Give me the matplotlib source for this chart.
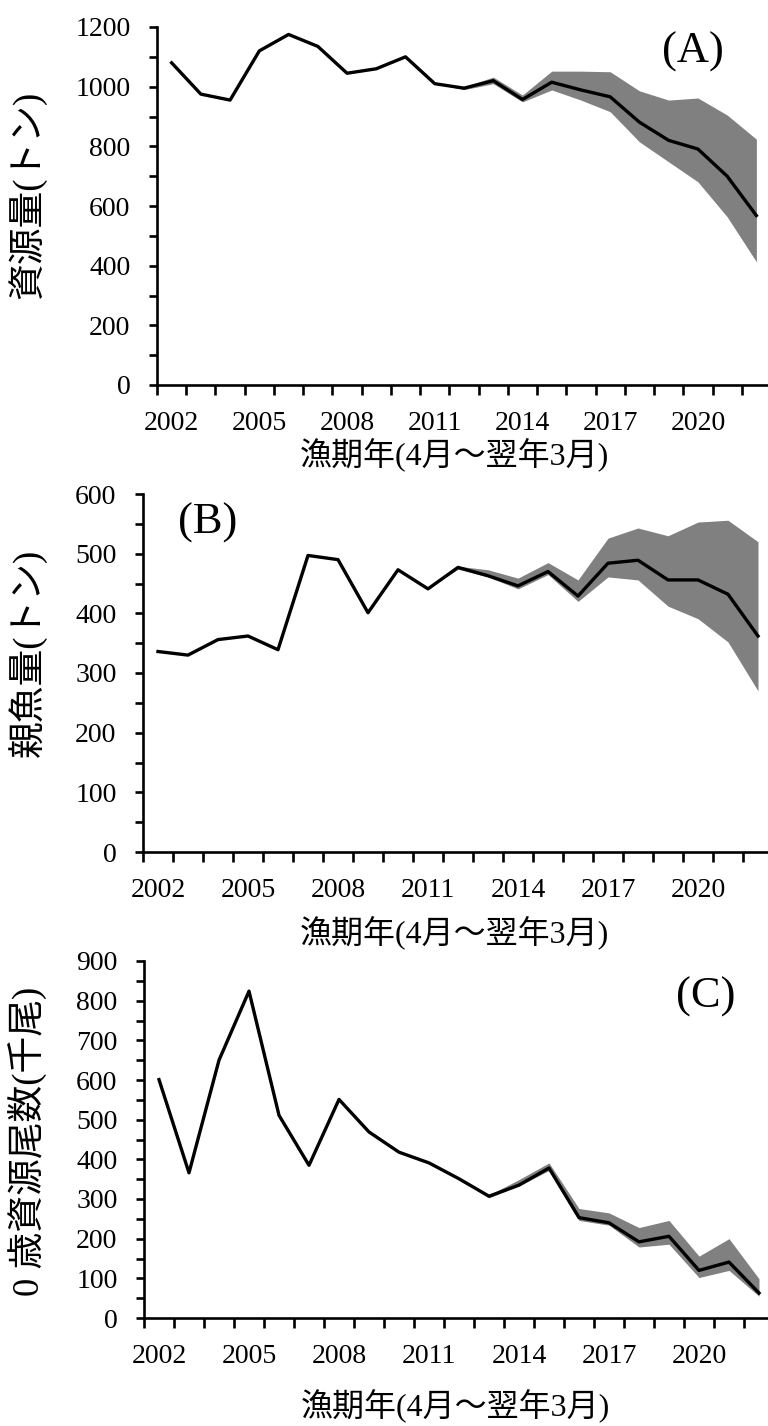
import numpy as np
import matplotlib
matplotlib.use('Agg')
import matplotlib.pyplot as plt
from matplotlib.ticker import MultipleLocator

plt.rcParams['font.family'] = ['Liberation Serif', 'Noto Sans CJK JP', 'DejaVu Sans']

years = list(range(2002, 2023))
label_years = [2002, 2005, 2008, 2011, 2014, 2017, 2020]

# (A) 資源量
biomass = [1080, 975, 955, 1120, 1175, 1135, 1045, 1060, 1100, 1010, 995,
           1020, 957, 1015, 989, 966, 881, 820, 791, 700, 568]
biomass_hi = [1080, 975, 955, 1120, 1175, 1135, 1045, 1060, 1100, 1010, 1000,
              1032, 972, 1052, 1052, 1050, 986, 955, 962, 905, 824]
biomass_lo = [1080, 975, 955, 1120, 1175, 1135, 1045, 1060, 1100, 1010, 990,
              1010, 949, 989, 955, 916, 815, 748, 681, 564, 413]

# (B) 親魚量
ssb = [336, 330, 356, 362, 339, 497, 490, 401, 473, 441, 477,
       463, 446, 470, 429, 484, 489, 456, 456, 432, 362]
ssb_hi = [336, 330, 356, 362, 339, 497, 490, 401, 473, 441, 479,
          473, 459, 485, 456, 526, 543, 530, 553, 556, 520]
ssb_lo = [336, 330, 356, 362, 339, 497, 490, 401, 473, 441, 474,
          461, 441, 465, 420, 461, 456, 412, 391, 352, 270]

# (C) 0歳資源尾数
recruits = [601, 366, 650, 824, 511, 385, 551, 469, 418, 391, 351,
            307, 335, 378, 253, 240, 192, 206, 120, 141, 63]
recruits_hi = [601, 366, 650, 824, 511, 385, 551, 469, 418, 391, 351,
               310, 349, 391, 276, 265, 228, 246, 156, 200, 99]
recruits_lo = [601, 366, 650, 824, 511, 385, 551, 469, 418, 391, 351,
               303, 333, 372, 246, 234, 179, 186, 102, 120, 55]

W, H = 768, 1426
fig = plt.figure(figsize=(W / 100, H / 100), dpi=100)


def make_axes(left, right, top, bottom):
    return fig.add_axes([left / W, 1 - bottom / H, (right - left) / W, (bottom - top) / H])


def style(ax, ymax, major, minor, ylabel, ylab_x, ylab_y, xlab_x, xlab_y):
    ax.set_xlim(years[0] - 0.5, years[-1] + 0.5)
    ax.set_ylim(0, ymax)
    for s in ['top', 'right']:
        ax.spines[s].set_visible(False)
    for s in ['left', 'bottom']:
        ax.spines[s].set_linewidth(1.9)
    ax.yaxis.set_major_locator(MultipleLocator(major))
    ax.yaxis.set_minor_locator(MultipleLocator(minor))
    ax.tick_params(axis='y', which='both', direction='out', length=6, width=1.9,
                   labelsize=20, pad=13)
    # category boundaries get the tick marks, labels sit at category centres
    bounds = np.arange(years[0] - 0.5, years[-1] + 1.0, 1.0)
    ax.set_xticks(bounds, minor=True)
    ax.set_xticks(label_years)
    ax.set_xticklabels([str(y) for y in label_years])
    ax.tick_params(axis='x', which='minor', direction='out', length=7, width=1.9)
    ax.tick_params(axis='x', which='major', length=0, labelsize=20, pad=19)
    ax.set_ylabel(ylabel, fontsize=26.5)
    ax.yaxis.set_label_coords(ylab_x, ylab_y)
    ax.set_xlabel('漁期年(4月～翌年3月)', fontsize=23)
    ax.xaxis.set_label_coords(xlab_x, xlab_y)
    ax.xaxis.label.set_va('top')


def draw(ax, y, lo, hi):
    ax.fill_between(years, lo, hi, color='#808080', linewidth=0)
    ax.plot(years, y, color='black', linewidth=2.4)


axA = make_axes(157, 771, 27, 385)
draw(axA, biomass, biomass_lo, biomass_hi)
style(axA, 1200, 200, 100, '資源量(トン)', -0.18, 0.53, 0.484, -0.15)

axB = make_axes(143, 773, 494, 852)
draw(axB, ssb, ssb_lo, ssb_hi)
style(axB, 600, 100, 50, '親魚量(トン)', -0.152, 0.555, 0.494, -0.18)

axC = make_axes(144, 774, 961, 1318)
draw(axC, recruits, recruits_lo, recruits_hi)
style(axC, 900, 100, 50, '0 歳資源尾数(千尾)', -0.152, 0.496, 0.494, -0.2)

fig.text(693 / W, 1 - 52 / H, '(A)', fontsize=32, ha='center', va='center')
fig.text(208 / W, 1 - 523 / H, '(B)', fontsize=32, ha='center', va='center')
fig.text(706 / W, 1 - 997 / H, '(C)', fontsize=32, ha='center', va='center')

fig.savefig('out.png', dpi=100)
